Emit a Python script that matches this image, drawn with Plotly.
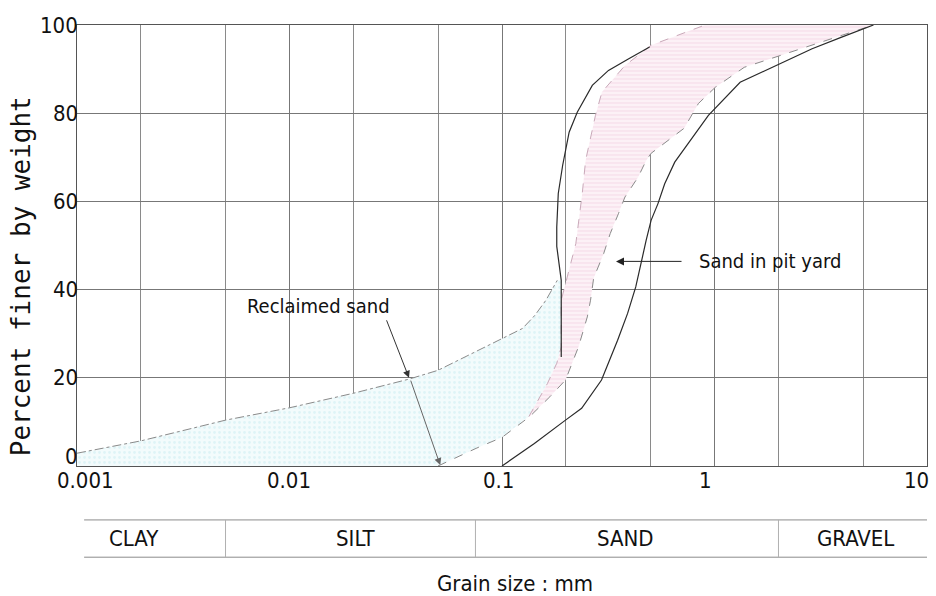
import numpy as np
import plotly.graph_objects as go

# ---------------- data (grain size mm, percent finer) ----------------
# Reclaimed sand - fine-side boundary
reclaimed_upper_x = [0.001, 0.002, 0.005, 0.01, 0.02, 0.0365, 0.05, 0.0755, 0.1, 0.125, 0.143, 0.161, 0.182]
reclaimed_upper_y = [2.9, 5.7, 10.4, 13.2, 16.5, 19.7, 21.7, 25.9, 28.8, 31.2, 34.2, 37.6, 42.1]

# Reclaimed sand - coarse-side boundary
reclaimed_lower_x = [0.05, 0.0755, 0.1, 0.135, 0.168, 0.199, 0.229, 0.252, 0.261, 0.270, 0.301, 0.323,
                     0.353, 0.379, 0.437, 0.477, 0.503, 0.72, 0.84, 1.01, 1.38, 2.03, 2.88, 3.94, 5.6]
reclaimed_lower_y = [0, 4.0, 6.5, 11.2, 15.7, 19.5, 27.0, 33.8, 37.6, 42.6, 48.2, 52.7,
                     57.2, 61.0, 65.5, 69.3, 70.9, 76.6, 82.2, 85.9, 90.4, 93.1, 95.4, 97.6, 100]

# Sand in pit yard - fine-side boundary
pit_fine_x = [0.190, 0.190, 0.190, 0.181, 0.181, 0.184, 0.193, 0.207, 0.226, 0.266, 0.317, 0.393, 0.495]
pit_fine_y = [24.7, 33.5, 42.1, 49.8, 54.2, 61.8, 68.2, 75.7, 80.2, 86.3, 89.7, 92.3, 95.0]

# Sand in pit yard - coarse-side boundary
pit_coarse_x = [0.1, 0.142, 0.199, 0.237, 0.294, 0.350, 0.390, 0.426, 0.477, 0.503, 0.542, 0.583,
                0.650, 0.78, 0.936, 1.32, 1.95, 2.88, 3.94, 5.6]
pit_coarse_y = [0, 5.1, 10.4, 13.1, 19.5, 28.5, 34.6, 40.6, 51.2, 55.7, 59.5, 64.0,
                68.9, 74.2, 79.5, 87.0, 90.8, 94.6, 97.2, 100]

# Overlap zone - fine-side edge
overlap_fine_x = [0.1338, 0.148, 0.1636, 0.181, 0.190, 0.190, 0.2072, 0.2225, 0.2386, 0.2475,
                  0.2753, 0.2954, 0.379, 0.503, 0.903]
overlap_fine_y = [11.2, 14.9, 18.7, 23.3, 27.0, 37.6, 44.4, 50.4, 61.8, 69.3,
                  79.5, 84.8, 90.8, 95.4, 100]

# Soil classification table
class_names = ["CLAY", "SILT", "SAND", "GRAVEL"]
class_label_x = [0.00185, 0.0205, 0.38, 4.6]
class_edges = [0.00108, 0.005, 0.075, 2.0, 10.0]

x_tick_vals = [0.001, 0.01, 0.1, 1, 10]
x_tick_text = ["0.001", "0.01", "0.1", "1", "10"]
x_tick_shift = [8, -1, -4, -9, -11]
y_tick_vals = [0, 20, 40, 60, 80, 100]
y_tick_shift = [10, 0, 0, 0, 0, 0]

# ---------------- derived polygons ----------------
cy_x, cy_y = list(reclaimed_upper_x), list(reclaimed_upper_y)
cy_x.append(0.190); cy_y.append(42.1)
for xv, yv in reversed(list(zip(overlap_fine_x, overlap_fine_y))):
    if yv <= 27.0:
        cy_x.append(xv); cy_y.append(yv)
for xv, yv in reversed(list(zip(reclaimed_lower_x, reclaimed_lower_y))):
    if xv < 0.134:
        cy_x.append(xv); cy_y.append(yv)
cy_x.append(0.001); cy_y.append(0)

pk_x, pk_y = list(overlap_fine_x), list(overlap_fine_y)
for xv, yv in reversed(list(zip(reclaimed_lower_x, reclaimed_lower_y))):
    if xv >= 0.135:
        pk_x.append(xv); pk_y.append(yv)

MONO = "DejaVu Sans Mono, monospace"
COND = "DejaVu Sans Condensed, sans-serif"
TXT = "#111"

fig = go.Figure()

fig.add_trace(go.Scatter(
    x=cy_x, y=cy_y, mode="lines", fill="toself", line=dict(width=0),
    fillcolor="#f0fafb",
    fillpattern=dict(shape=".", fgcolor="#c9ebf1", bgcolor="#f3fbfc", size=5, solidity=0.25),
    hoverinfo="skip", showlegend=False))

fig.add_trace(go.Scatter(
    x=pk_x, y=pk_y, mode="lines", fill="toself", line=dict(width=0),
    fillcolor="#faeaf1",
    fillpattern=dict(shape="-", fgcolor="#f0cadb", bgcolor="#fcf1f6", size=4, solidity=0.3),
    hoverinfo="skip", showlegend=False))

fig.add_trace(go.Scatter(x=reclaimed_upper_x, y=reclaimed_upper_y, mode="lines",
                         line=dict(color="#8a8a8a", width=1, dash="dashdot"),
                         hoverinfo="skip", showlegend=False))
fig.add_trace(go.Scatter(x=reclaimed_lower_x, y=reclaimed_lower_y, mode="lines",
                         line=dict(color="#8a8a8a", width=1, dash="dash"),
                         hoverinfo="skip", showlegend=False))
fig.add_trace(go.Scatter(x=overlap_fine_x, y=overlap_fine_y, mode="lines",
                         line=dict(color="#c9a9b9", width=1, dash="dash"),
                         hoverinfo="skip", showlegend=False))
fig.add_trace(go.Scatter(x=pit_fine_x, y=pit_fine_y, mode="lines",
                         line=dict(color="#2a2a2a", width=1.2),
                         hoverinfo="skip", showlegend=False))
fig.add_trace(go.Scatter(x=pit_coarse_x, y=pit_coarse_y, mode="lines",
                         line=dict(color="#2a2a2a", width=1.2),
                         hoverinfo="skip", showlegend=False))

minor_vals = [m * 10.0 ** e for e in range(-3, 1) for m in (2, 5)]

fig.update_xaxes(
    type="log", range=[-3, 1], tickvals=x_tick_vals, showticklabels=False, ticks="",
    showgrid=True, gridcolor="#777", gridwidth=1,
    minor=dict(tickvals=minor_vals, showgrid=True, gridcolor="#8a8a8a", gridwidth=1, ticks=""),
    showline=True, linecolor="#555", linewidth=1, mirror=True, zeroline=False)
fig.update_yaxes(
    range=[0, 100], tickvals=y_tick_vals, showticklabels=False, ticks="",
    showgrid=True, gridcolor="#777", gridwidth=1,
    showline=True, linecolor="#555", linewidth=1, mirror=True, zeroline=False)

L, R, T, B = 77, 9, 25, 130


def xpaper(v):
    return (np.log10(v) + 3.0) / 4.0


shapes = []
y_top, y_bot = -0.1223, -0.2068
shapes.append(dict(type="line", xref="paper", yref="paper", x0=xpaper(class_edges[0]), x1=xpaper(class_edges[-1]),
                   y0=y_top, y1=y_top, line=dict(color="#8c8c8c", width=1)))
shapes.append(dict(type="line", xref="paper", yref="paper", x0=xpaper(class_edges[0]), x1=xpaper(class_edges[-1]),
                   y0=y_bot, y1=y_bot, line=dict(color="#8c8c8c", width=1)))
for e in class_edges[1:-1]:
    shapes.append(dict(type="line", xref="paper", yref="paper", x0=xpaper(e), x1=xpaper(e),
                       y0=y_top, y1=y_bot, line=dict(color="#b0b0b0", width=1)))

annotations = []
# tick labels
for v, t, s in zip(x_tick_vals, x_tick_text, x_tick_shift):
    annotations.append(dict(text=t, xref="paper", yref="paper", x=xpaper(v), y=-0.034, xshift=s,
                            showarrow=False, font=dict(family=COND, size=22, color=TXT),
                            xanchor="center", yanchor="middle"))
for v, s in zip(y_tick_vals, y_tick_shift):
    annotations.append(dict(text=str(v), xref="paper", yref="y", x=0, y=v, xshift=3, yshift=s,
                            showarrow=False, font=dict(family=COND, size=22, color=TXT),
                            xanchor="right", yanchor="middle"))

for name, lx in zip(class_names, class_label_x):
    annotations.append(dict(text=name, xref="paper", yref="paper", x=xpaper(lx), y=(y_top + y_bot) / 2,
                            showarrow=False, font=dict(family=COND, size=22, color=TXT),
                            xanchor="center", yanchor="middle"))

annotations.append(dict(text="Grain size : mm", xref="paper", yref="paper", x=0.515, y=-0.267,
                        showarrow=False, font=dict(family=COND, size=22, color=TXT),
                        xanchor="center", yanchor="middle"))
annotations.append(dict(text="Percent finer by weight", xref="paper", yref="paper", x=-0.066, y=0.43,
                        textangle=-90, showarrow=False,
                        font=dict(family=MONO, size=26, color=TXT),
                        xanchor="center", yanchor="middle"))

# curve labels
annotations.append(dict(text="Reclaimed sand", x=np.log10(0.0062), y=36.2, xref="x", yref="y",
                        showarrow=False, xanchor="left", yanchor="middle",
                        font=dict(family=COND, size=20, color=TXT)))
annotations.append(dict(text="", x=np.log10(0.0365), y=20, xref="x", yref="y",
                        showarrow=True, ax=-23, ay=-59, arrowhead=2, arrowsize=1.4,
                        arrowwidth=1, arrowcolor="#333"))
annotations.append(dict(text="", x=np.log10(0.0512), y=0.2, xref="x", yref="y",
                        showarrow=True, ax=-30, ay=-86, arrowhead=2, arrowsize=1.4,
                        arrowwidth=1, arrowcolor="#666"))
annotations.append(dict(text="Sand in pit yard", x=np.log10(0.83), y=46.4, xref="x", yref="y",
                        showarrow=False, xanchor="left", yanchor="middle",
                        font=dict(family=COND, size=20, color=TXT)))
annotations.append(dict(text="", x=np.log10(0.344), y=46.4, xref="x", yref="y",
                        showarrow=True, ax=67, ay=0, arrowhead=2, arrowsize=1.6,
                        arrowwidth=1, arrowcolor="#222"))

fig.update_layout(
    width=936, height=596,
    margin=dict(l=L, r=R, t=T, b=B),
    paper_bgcolor="white", plot_bgcolor="white",
    shapes=shapes, annotations=annotations, showlegend=False)

fig.write_html("out.html")
